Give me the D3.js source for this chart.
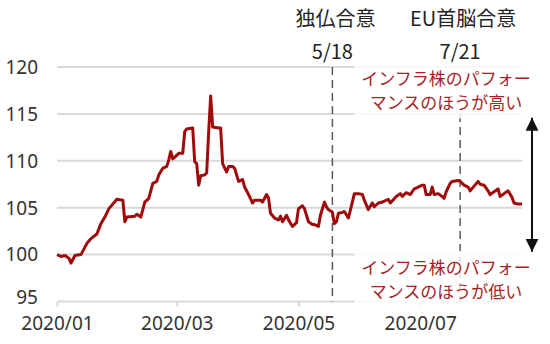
<!DOCTYPE html>
<html>
<head>
<meta charset="utf-8">
<script src="https://cdn.jsdelivr.net/npm/d3@7"></script>
<style>
  body { margin: 0; background: #fff; }
  svg { display: block; font-family: "Noto Sans CJK JP", "Noto Sans", sans-serif; }
</style>
</head>
<body>
<svg id="main" width="550" height="344"></svg>
<script>
// relative performance index (start = 100)
const dates = [
  "2020-01-01","2020-01-03","2020-01-05","2020-01-07","2020-01-08","2020-01-10","2020-01-13","2020-01-16",
  "2020-01-18","2020-01-21","2020-01-23","2020-01-25","2020-01-27","2020-01-31","2020-02-03","2020-02-04",
  "2020-02-05","2020-02-09","2020-02-10","2020-02-12","2020-02-14","2020-02-16","2020-02-18","2020-02-20",
  "2020-02-21","2020-02-23","2020-02-25","2020-02-26","2020-02-27","2020-02-28","2020-02-29","2020-03-02",
  "2020-03-04","2020-03-05","2020-03-06","2020-03-09","2020-03-10","2020-03-11","2020-03-12","2020-03-13",
  "2020-03-15","2020-03-16","2020-03-17","2020-03-18","2020-03-19","2020-03-22","2020-03-23","2020-03-24",
  "2020-03-26","2020-03-27","2020-03-29","2020-03-30","2020-04-01","2020-04-03","2020-04-04","2020-04-06",
  "2020-04-08","2020-04-09","2020-04-12","2020-04-13","2020-04-15","2020-04-16","2020-04-17","2020-04-19",
  "2020-04-21","2020-04-22","2020-04-23","2020-04-25","2020-04-26","2020-04-28","2020-04-30","2020-05-01",
  "2020-05-03","2020-05-04","2020-05-06","2020-05-08","2020-05-09","2020-05-11","2020-05-12","2020-05-14",
  "2020-05-15","2020-05-16","2020-05-18","2020-05-19","2020-05-20","2020-05-21","2020-05-23","2020-05-24",
  "2020-05-26","2020-05-28","2020-05-29","2020-05-31","2020-06-02","2020-06-03","2020-06-05","2020-06-07",
  "2020-06-08","2020-06-10","2020-06-12","2020-06-15","2020-06-16","2020-06-19","2020-06-21","2020-06-22",
  "2020-06-24","2020-06-26","2020-06-28","2020-06-30","2020-07-02","2020-07-03","2020-07-04","2020-07-06",
  "2020-07-07","2020-07-08","2020-07-10","2020-07-12","2020-07-13","2020-07-14","2020-07-16","2020-07-17",
  "2020-07-20","2020-07-21","2020-07-23","2020-07-25","2020-07-26","2020-07-28","2020-07-30","2020-07-31",
  "2020-08-02","2020-08-04","2020-08-05","2020-08-07","2020-08-09","2020-08-10","2020-08-12","2020-08-14",
  "2020-08-16","2020-08-17","2020-08-19","2020-08-21"
];
const values = [
  100.0, 99.8, 99.9, 99.6, 99.1, 99.9, 100.0, 101.2,
  101.7, 102.2, 103.3, 104.0, 104.9, 105.9, 105.8, 103.5,
  104.0, 104.1, 104.3, 104.0, 105.6, 106.0, 107.6, 107.8,
  108.5, 109.2, 109.4, 110.1, 111.0, 110.2, 110.4, 110.8,
  110.8, 113.1, 113.4, 113.5, 109.9, 109.7, 107.4, 108.4,
  108.5, 108.7, 113.1, 116.9, 113.6, 113.5, 113.5, 109.7,
  108.8, 109.4, 109.4, 109.2, 107.8, 108.0, 107.2, 106.4,
  105.5, 105.8, 105.8, 105.6, 106.4, 106.0, 104.4, 103.9,
  103.7, 104.1, 103.5, 104.2, 103.7, 103.0, 103.4, 104.9,
  105.2, 104.9, 103.5, 103.2, 103.2, 103.0, 104.2, 105.6,
  105.1, 104.8, 104.5, 103.3, 103.5, 104.4, 104.5, 104.6,
  103.9, 105.6, 106.5, 106.5, 106.4, 105.8, 104.8, 105.5,
  105.1, 105.5, 105.6, 105.9, 105.5, 106.2, 106.5, 106.2,
  106.6, 106.4, 107.0, 107.2, 107.4, 107.4, 106.4, 106.4,
  107.2, 106.4, 106.5, 106.2, 106.0, 106.7, 107.6, 107.8,
  107.9, 107.8, 107.4, 107.2, 106.8, 107.3, 107.8, 107.5,
  107.4, 106.8, 106.4, 106.7, 107.0, 106.2, 106.5, 106.8,
  106.1, 105.5, 105.4, 105.4
];

const yTicks = [95, 100, 105, 110, 115, 120];
const xTicks = ["2020-01-01", "2020-03-01", "2020-05-01", "2020-07-01"];

// event markers: date, label lines, top of the dashed line
const eventDates = ["2020-05-18", "2020-07-21"];
const eventNames = ["独仏合意", "EU首脳合意"];
const eventLabels = ["5/18", "7/21"];
const eventTops = [120, 115];

const noteHigh = ["インフラ株のパフォー", "マンスのほうが高い"];
const noteLow = ["インフラ株のパフォー", "マンスのほうが低い"];

const parse = d3.timeParse("%Y-%m-%d");
const series = dates.map((d, i) => ({date: parse(d), value: values[i]}));

const svg = d3.select("#main");

const xScale = d3.scaleTime()
    .domain([parse("2020-01-01"), parse("2020-08-21")])
    .range([57, 522]);
const yScale = d3.scaleLinear()
    .domain([95, 120])
    .range([301.5, 67]);

// gridlines
svg.append("g")
    .selectAll("line")
    .data(yTicks.filter(t => t > 95))
    .join("line")
    .attr("x1", xScale.range()[0])
    .attr("x2", xScale.range()[1])
    .attr("y1", d => yScale(d))
    .attr("y2", d => yScale(d))
    .attr("stroke", "#d9d9d9")
    .attr("stroke-width", 2);

// y labels
svg.append("g")
    .selectAll("text")
    .data(yTicks)
    .join("text")
    .attr("x", 38)
    .attr("y", d => yScale(d) - (d === 95 ? 4 : 0))
    .attr("dy", "0.36em")
    .attr("text-anchor", "end")
    .attr("font-size", 19)
    .attr("font-family", "\"Noto Sans\", sans-serif")
    .attr("fill", "#333")
    .text(d => d);

// x axis
const xAxis = d3.axisBottom(xScale)
    .tickValues(xTicks.map(parse))
    .tickFormat(d3.timeFormat("%Y/%m"))
    .tickSize(5)
    .tickPadding(10);

const gx = svg.append("g")
    .attr("transform", `translate(0,${yScale(95)})`)
    .call(xAxis);
gx.select(".domain").attr("stroke", "#d9d9d9").attr("stroke-width", 2)
    .attr("d", `M${xScale.range()[0]},0H${xScale.range()[1]}`);
gx.selectAll(".tick line").attr("stroke", "#d9d9d9").attr("stroke-width", 2);
gx.selectAll(".tick text")
    .attr("font-size", 19)
    .attr("font-family", "\"Noto Sans\", sans-serif")
    .attr("fill", "#333");

// event dashed lines
svg.append("g")
    .selectAll("line")
    .data(eventDates)
    .join("line")
    .attr("x1", d => xScale(parse(d)))
    .attr("x2", d => xScale(parse(d)))
    .attr("y1", (d, i) => yScale(eventTops[i]))
    .attr("y2", yScale(95))
    .attr("stroke", "#595959")
    .attr("stroke-width", 1.5)
    .attr("stroke-dasharray", "8,5");

// series line
const line = d3.line()
    .x(d => xScale(d.date))
    .y(d => yScale(d.value));

svg.append("path")
    .datum(series)
    .attr("d", line)
    .attr("fill", "none")
    .attr("stroke", "#a00a0a")
    .attr("stroke-width", 3)
    .attr("stroke-linejoin", "round");

// event labels
const ev = svg.append("g")
    .attr("font-size", 20)
    .attr("fill", "#222")
    .attr("text-anchor", "middle");
eventDates.forEach((d, i) => {
    ev.append("text").attr("x", xScale(parse(d)) + 3).attr("y", 26).text(eventNames[i]);
    ev.append("text").attr("x", xScale(parse(d))).attr("y", 59).text(eventLabels[i]);
});

// note boxes (semi-transparent background over grid)
const boxes = [
    {lines: noteHigh, top: 120.5, bottom: 114.5},
    {lines: noteLow, top: 100.4, bottom: 94.5}
];
boxes.forEach(b => {
    svg.append("rect")
        .attr("x", 354)
        .attr("y", yScale(b.top))
        .attr("width", 184)
        .attr("height", yScale(b.bottom) - yScale(b.top))
        .attr("fill", "#fff")
        .attr("fill-opacity", 0.8);
    b.lines.forEach((t, j) => {
        svg.append("text")
            .attr("x", 446)
            .attr("y", yScale(b.top) + 23 + j * 24)
            .attr("text-anchor", "middle")
            .attr("font-size", 17)
            .attr("fill", "#a52323")
            .text(t);
    });
});

// double arrow
svg.append("defs").append("marker")
    .attr("id", "head")
    .attr("viewBox", "0 0 10 10")
    .attr("refX", 10)
    .attr("refY", 5)
    .attr("markerWidth", 6.5)
    .attr("markerHeight", 6.5)
    .attr("markerUnits", "strokeWidth")
    .attr("orient", "auto-start-reverse")
    .append("path")
    .attr("d", "M0,0L10,5L0,10Z")
    .attr("fill", "#111");

svg.append("line")
    .attr("x1", 532)
    .attr("x2", 532)
    .attr("y1", yScale(114.6))
    .attr("y2", yScale(100.3))
    .attr("stroke", "#111")
    .attr("stroke-width", 2)
    .attr("marker-start", "url(#head)")
    .attr("marker-end", "url(#head)");
</script>
</body>
</html>
